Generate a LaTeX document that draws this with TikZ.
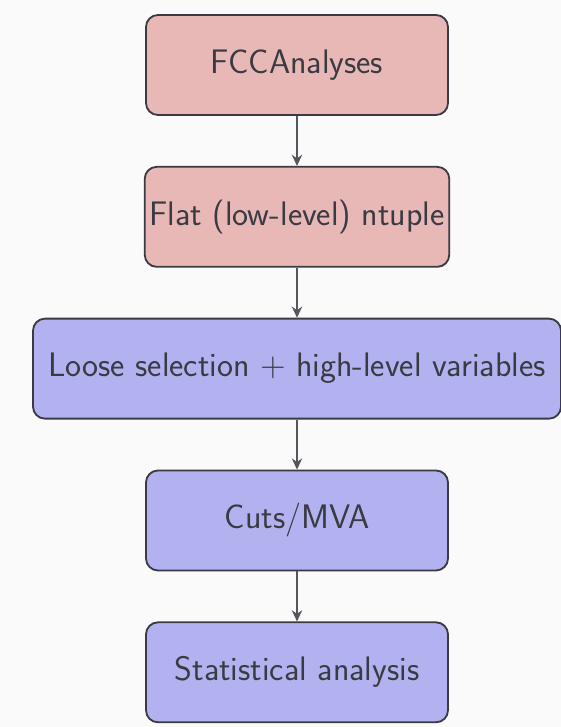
\documentclass[tikz,border=0pt]{standalone}
\usetikzlibrary{positioning,arrows.meta}
\definecolor{pinkbox}{RGB}{232,184,183}
\definecolor{bluebox}{RGB}{179,178,240}
\definecolor{edgegrey}{RGB}{58,58,66}
\definecolor{arrowgrey}{RGB}{85,85,92}
\definecolor{bggrey}{RGB}{250,250,250}
\begin{document}
\begin{tikzpicture}[
        stage/.style={draw=edgegrey,line width=1.3pt,rounded corners=0.3cm,minimum width=7.55cm,minimum height=2.5cm,text=edgegrey,font=\sffamily\fontsize{24.2}{28}\selectfont},
        flow/.style={draw=arrowgrey,line width=1pt,-{Stealth[length=2.8mm,width=2.6mm]}}
    ]
                \fill[bggrey] (0,0) rectangle (14.025,-18.175);
                \useasboundingbox (0,0) rectangle (14.025,-18.175);
                %% ntuple production
                \node[stage,fill=pinkbox] (fcc) at (7.425,-1.625) {FCCAnalyses};
                \node[stage,fill=pinkbox,below=1.25cm of fcc] (flat) {Flat (low-level) ntuple};
                %% analysis chain
                \node[stage,fill=bluebox,below=1.25cm of flat,minimum width=13.2cm] (loose) {Loose selection $+$ high-level variables};
                \node[stage,fill=bluebox,below=1.25cm of loose] (cuts) {Cuts/MVA};
                \node[stage,fill=bluebox,below=1.25cm of cuts] (stat) {Statistical analysis};
                %% arrows
                \draw[flow] (fcc) -- (flat);
                \draw[flow] (flat) -- (loose);
                \draw[flow] (loose) -- (cuts);
                \draw[flow] (cuts) -- (stat);
            \end{tikzpicture}
\end{document}
